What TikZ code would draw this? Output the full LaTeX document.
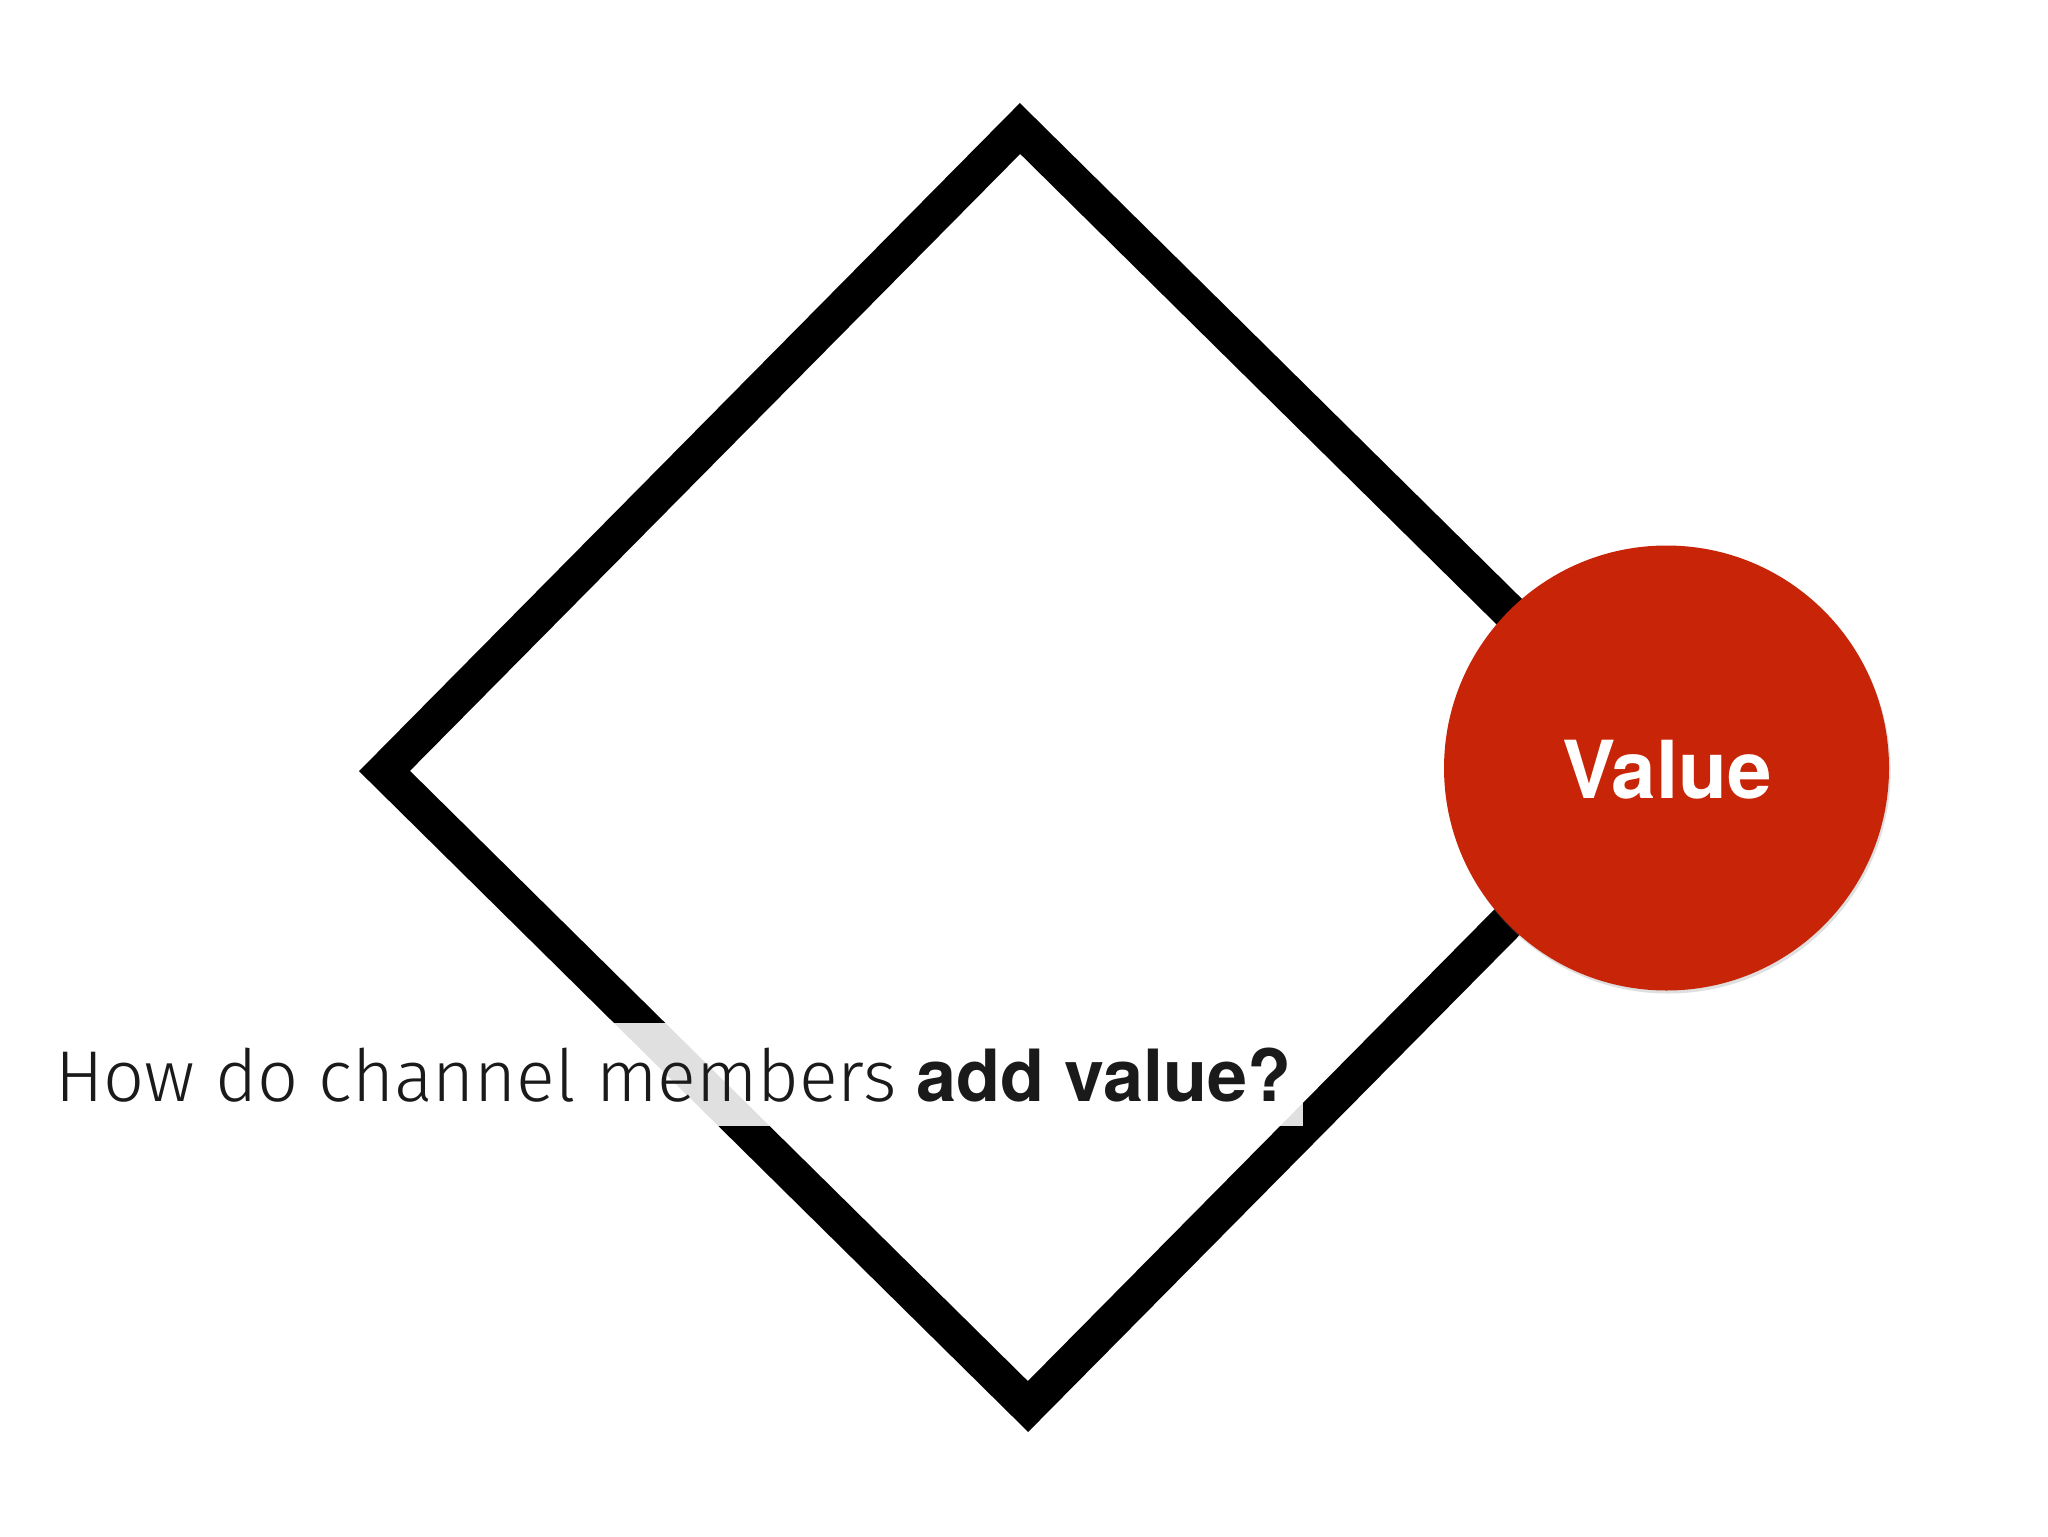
\documentclass[tikz,border=0pt]{standalone}
\usepackage{fontspec}
\setmainfont{TeX Gyre Heros}
\newfontfamily\lightface{Fira Sans Light}
\usetikzlibrary{shadows}
\definecolor{valred}{RGB}{200,36,8}
\definecolor{txt}{RGB}{26,26,26}
\tikzset{
  diamondline/.style={line width=18pt, line join=miter, draw=black},
  valuedot/.style={circle, fill=valred, minimum size=222.5pt, inner sep=0pt,
    drop shadow={opacity=0.25, shadow xshift=0.8pt, shadow yshift=-1.5pt}},
  valuetext/.style={text=white, font=\fontsize{40}{48}\selectfont\bfseries},
  band/.style={fill=white, fill opacity=0.88, inner sep=0pt, draw=none},
  question/.style={text=txt, font=\fontsize{36}{43}\selectfont, inner sep=0pt, anchor=base west}
}
\begin{document}
\begin{tikzpicture}[x=0.5pt,y=-0.5pt]
\useasboundingbox[fill=white] (0,0) rectangle (2048,1536);
\coordinate (top) at (1020,128.5);
\coordinate (right) at (1663.5,764);
\coordinate (bottom) at (1028,1406.5);
\coordinate (left) at (384.5,771);
\draw[diamondline] (top) -- (right) -- (bottom) -- (left) -- cycle;
\node[valuedot] (circ) at (1666.5,768) {};
\node[valuetext, anchor=base] (val) at (1667,798) {Value};
\node[band, minimum width=631.5pt, minimum height=51.5pt, anchor=north west] (bandbox) at (40,1023) {};
\node[question] (q) at (55,1101) {{\lightface How do channel members} \textbf{add value?}};
\end{tikzpicture}
\end{document}
